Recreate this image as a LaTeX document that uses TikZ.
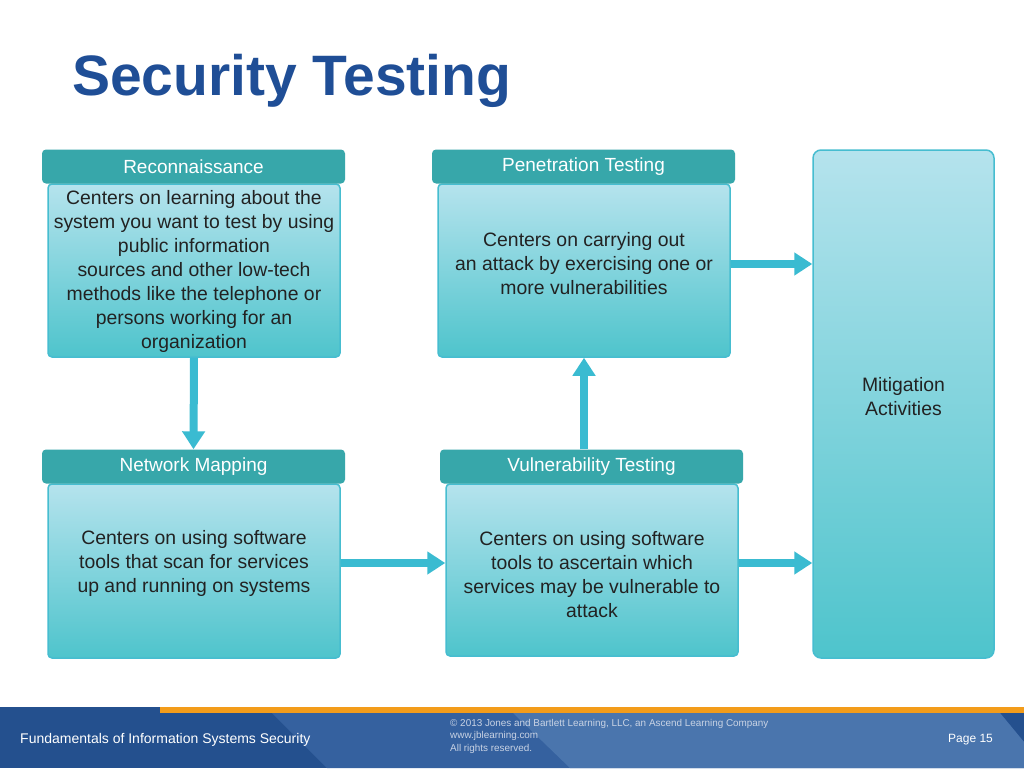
\documentclass[tikz,border=0pt]{standalone}
\usepackage{fontspec}
\setmainfont{Liberation Sans}
\usetikzlibrary{arrows.meta}
\definecolor{titleblue}{HTML}{1F4E96}
\definecolor{hdr}{HTML}{37A7AA}
\definecolor{bodytop}{HTML}{B5E3ED}
\definecolor{bodybot}{HTML}{4EC4CC}
\definecolor{edgec}{HTML}{46BDD0}
\definecolor{arrowc}{HTML}{3ABBD1}
\definecolor{footdark}{HTML}{24508E}
\definecolor{footmid}{HTML}{35619F}
\definecolor{footlight}{HTML}{4A75AD}
\definecolor{orangebar}{HTML}{F39C1A}
\definecolor{bodytext}{HTML}{222222}
\definecolor{copyc}{HTML}{C9D3E4}
\begin{document}
\begin{tikzpicture}[x=1pt,y=-1pt,
  bodybox/.style={draw=edgec, line width=1.5pt, rounded corners=4pt, top color=bodytop, bottom color=bodybot, inner sep=0pt, minimum width=292pt},
  hdrbox/.style={fill=hdr, rounded corners=4pt, minimum width=303pt, minimum height=34pt, inner sep=0pt, text=white, font=\fontsize{19}{22}\selectfont},
  bodytxt/.style={align=center, text=bodytext, inner sep=0pt, font=\fontsize{19.4}{24}\selectfont},
  arr/.style={draw=arrowc, line width=8pt, -{Triangle[length=18pt,width=22pt]}},
  foottxt/.style={text=white, inner sep=0pt}
]
\useasboundingbox (0,0) rectangle (1024,768);
\fill[white] (0,0) rectangle (1024,768);

% title
\node[anchor=base west, inner sep=0pt, text=titleblue, font=\fontsize{57}{60}\selectfont\bfseries] (title) at (72,95) {Security Testing};

% bodies
\node[bodybox, minimum height=173pt] (rbody) at (194,270.5) {};
\node[bodybox, minimum height=173pt] (pbody) at (584,270.5) {};
\node[bodybox, minimum height=174pt] (nbody) at (194,571) {};
\node[bodybox, minimum height=172pt] (vbody) at (592,570) {};
\node[draw=edgec, line width=1.5pt, rounded corners=8pt, top color=bodytop, bottom color=bodybot, minimum width=181pt, minimum height=508pt, inner sep=0pt] (mit) at (903.5,404) {};

% headers
\node[hdrbox] (rhead) at (193.5,166.5) {Reconnaissance};
\node[hdrbox] (phead) at (583.5,166.5) {Penetration Testing};
\node[hdrbox] (nhead) at (193.5,466.5) {Network Mapping};
\node[hdrbox] (vhead) at (591.5,466.5) {Vulnerability Testing};

% body texts
\node[bodytxt] (rtxt) at (194,271) {Centers on learning about the\\system you want to test by using\\public information\\sources and other low-tech\\methods like the telephone or\\persons working for an\\organization};
\node[bodytxt] (ptxt) at (584,264) {Centers on carrying out\\an attack by exercising one or\\more vulnerabilities};
\node[bodytxt] (ntxt) at (194,563) {Centers on using software\\tools that scan for services\\up and running on systems};
\node[bodytxt] (vtxt) at (592,575) {Centers on using software\\tools to ascertain which\\services may be vulnerable to\\attack};
\node[bodytxt] (mtxt) at (903.5,397) {Mitigation\\Activities};

% arrows
\draw[arr] (rbody.south) -- (nhead.north);
\draw[arr] (pbody.south |- vhead.north) -- (pbody.south);
\draw[arr] (pbody.east |- ptxt.center) -- (mit.west |- ptxt.center);
\draw[arr] (nbody.east |- ntxt.center) -- (vbody.west |- ntxt.center);
\draw[arr] (vbody.east |- ntxt.center) -- (mit.west |- ntxt.center);

% footer
\fill[footdark] (0,707) rectangle (1024,768);
\fill[footmid] (272,713) -- (1000,713) -- (1024,742) -- (1024,768) -- (327,768) -- cycle;
\fill[footlight] (513,713) -- (1000,713) -- (1024,742) -- (1024,768) -- (570,768) -- cycle;
\fill[orangebar] (160,707) rectangle (1024,713);
\node[foottxt, anchor=west, font=\fontsize{14}{16}\selectfont] (ftitle) at (20,740) {Fundamentals of Information Systems Security};
\node[anchor=north west, inner sep=0pt, text=copyc, align=left, font=\fontsize{9.9}{12.5}\selectfont] (fcopy) at (450,719) {\textcopyright{} 2013 Jones and Bartlett Learning, LLC, an Ascend Learning Company\\www.jblearning.com\\All rights reserved.};
\node[foottxt, anchor=west, font=\fontsize{12}{14}\selectfont] (fpage) at (948,740) {Page 15};
\end{tikzpicture}
\end{document}
